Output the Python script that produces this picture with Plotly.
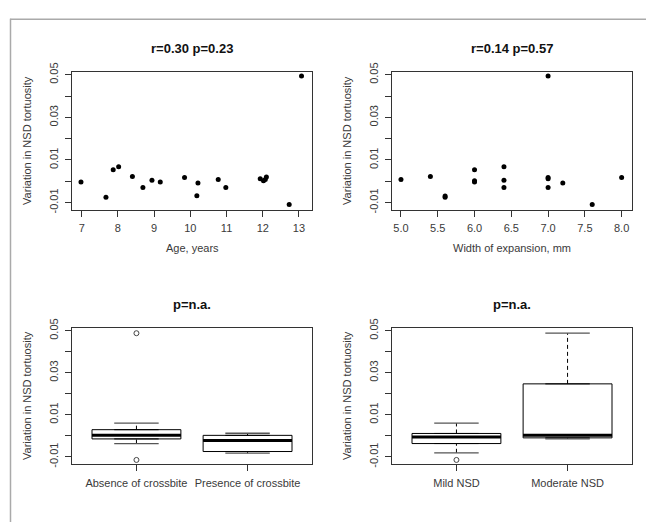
import plotly.graph_objects as go

# ---- data ----
age = [6.98, 7.67, 7.87, 8.02, 8.40, 8.69, 8.94, 9.17, 9.84, 10.18, 10.21, 10.77, 10.98, 11.93, 12.02, 12.07, 12.10, 12.73, 13.07]
var_age = [-0.0003, -0.0075, 0.0054, 0.0068, 0.0023, -0.0029, 0.0005, -0.0003, 0.0018, -0.0068, -0.0008, 0.0008, -0.0029, 0.0012, 0.0003, 0.0008, 0.0020, -0.0109, 0.0494]

width_exp = [5.0, 5.4, 5.6, 5.6, 6.0, 6.0, 6.0, 6.4, 6.4, 6.4, 7.0, 7.0, 7.0, 7.0, 7.2, 7.6, 8.0]
var_width = [0.0008, 0.0023, -0.0069, -0.0075, 0.0054, 0.0003, -0.0003, 0.0068, 0.0005, -0.0029, 0.0494, 0.0018, 0.0012, -0.0029, -0.0008, -0.0109, 0.0018]

cross_cats = ["Absence of crossbite", "Presence of crossbite"]
cross_q1 = [-0.0015, -0.0075]
cross_med = [0.0002, -0.0022]
cross_q3 = [0.0029, 0.0002]
cross_lo = [-0.0037, -0.0083]
cross_hi = [0.0060, 0.0012]
cross_out_x = [1, 1]
cross_out_y = [0.0488, -0.0115]

nsd_cats = ["Mild NSD", "Moderate NSD"]
nsd_q1 = [-0.0037, -0.0010]
nsd_med = [-0.0006, 0.0003]
nsd_q3 = [0.0011, 0.0247]
nsd_lo = [-0.0081, -0.0015]
nsd_hi = [0.0060, 0.0488]
nsd_out_x = [1]
nsd_out_y = [-0.0115]

titles = ["r=0.30 p=0.23", "r=0.14 p=0.57", "p=n.a.", "p=n.a."]
xtitles = ["Age, years", "Width of expansion, mm", "", ""]
ytitle = "Variation in NSD tortuosity"
y_tickvals = [-0.01, 0.0, 0.01, 0.02, 0.03, 0.04, 0.05]
y_ticktext = ["-0.01", "", "0.01", "", "0.03", "", "0.05"]

W, H = 646, 525
FONT = "Liberation Sans, Arial, sans-serif"
TXT = "#3a3a3a"

fig = go.Figure()

def px_x(p):
    return p / W

def px_y(p):
    return 1 - p / H

# panel pixel boxes: (left, right, top, bottom)
panels = [(72, 312, 64, 206), (392, 632, 64, 206), (72, 312, 326, 466), (392, 632, 326, 466)]
xranges = [[6.732, 13.36], [4.878, 8.141], [0.42, 2.58], [0.42, 2.58]]
yrange = [-0.0136, 0.0515]

# scatter panels
fig.add_trace(go.Scatter(x=age, y=var_age, mode="markers",
                         marker=dict(color="black", size=5, symbol="circle"),
                         xaxis="x", yaxis="y", showlegend=False))
fig.add_trace(go.Scatter(x=width_exp, y=var_width, mode="markers",
                         marker=dict(color="black", size=5, symbol="circle"),
                         xaxis="x2", yaxis="y2", showlegend=False))

def add_boxes(q1, med, q3, lo, hi, ox, oy, xa, ya):
    pos = [1, 2]
    for i in range(2):
        fig.add_trace(go.Box(x=[pos[i]], q1=[q1[i]], median=[med[i]], q3=[q3[i]],
                             lowerfence=[q1[i]], upperfence=[q3[i]],
                             width=0.8, fillcolor="white",
                             line=dict(color="black", width=1),
                             whiskerwidth=0.5, boxpoints=False,
                             xaxis=xa, yaxis=ya, showlegend=False, hoverinfo="skip"))
        # dashed whiskers
        fig.add_trace(go.Scatter(x=[pos[i], pos[i]], y=[q3[i], hi[i]], mode="lines",
                                 line=dict(color="black", width=1, dash="4px,3px"),
                                 xaxis=xa, yaxis=ya, showlegend=False, hoverinfo="skip"))
        fig.add_trace(go.Scatter(x=[pos[i], pos[i]], y=[lo[i], q1[i]], mode="lines",
                                 line=dict(color="black", width=1, dash="4px,3px"),
                                 xaxis=xa, yaxis=ya, showlegend=False, hoverinfo="skip"))
        # caps
        for v in (lo[i], hi[i]):
            fig.add_trace(go.Scatter(x=[pos[i] - 0.2, pos[i] + 0.2], y=[v, v], mode="lines",
                                     line=dict(color="#555555", width=1.3),
                                     xaxis=xa, yaxis=ya, showlegend=False, hoverinfo="skip"))
        # thick median
        fig.add_trace(go.Scatter(x=[pos[i] - 0.4, pos[i] + 0.4], y=[med[i], med[i]], mode="lines",
                                 line=dict(color="black", width=3),
                                 xaxis=xa, yaxis=ya, showlegend=False, hoverinfo="skip"))
    fig.add_trace(go.Scatter(x=ox, y=oy, mode="markers",
                             marker=dict(color="white", size=5, symbol="circle",
                                         line=dict(color="#444444", width=1)),
                             xaxis=xa, yaxis=ya, showlegend=False, hoverinfo="skip"))

add_boxes(cross_q1, cross_med, cross_q3, cross_lo, cross_hi, cross_out_x, cross_out_y, "x3", "y3")
add_boxes(nsd_q1, nsd_med, nsd_q3, nsd_lo, nsd_hi, nsd_out_x, nsd_out_y, "x4", "y4")

layout = dict(
    width=W, height=H, margin=dict(l=0, r=0, t=0, b=0),
    paper_bgcolor="white", plot_bgcolor="white",
    font=dict(family=FONT, size=11, color=TXT),
    showlegend=False,
)

annotations = []
for i, (l, r, t, b) in enumerate(panels):
    sx = "" if i == 0 else str(i + 1)
    xa = dict(domain=[px_x(l), px_x(r)], range=xranges[i], anchor="y" + sx,
              showgrid=False, zeroline=False, showline=True, mirror=True,
              linecolor="#333333", linewidth=1, ticks="outside", ticklen=6,
              tickcolor="#333333", tickfont=dict(size=11, color=TXT),
              ticklabelstandoff=2)
    if i == 0:
        xa.update(tickvals=[7, 8, 9, 10, 11, 12, 13])
    elif i == 1:
        xa.update(tickvals=[5.0, 5.5, 6.0, 6.5, 7.0, 7.5, 8.0],
                  ticktext=["5.0", "5.5", "6.0", "6.5", "7.0", "7.5", "8.0"])
    elif i == 2:
        xa.update(tickvals=[1, 2], ticktext=cross_cats)
    else:
        xa.update(tickvals=[1, 2], ticktext=nsd_cats)
    ya = dict(domain=[px_y(b), px_y(t)], range=yrange, anchor="x" + sx,
              showgrid=False, zeroline=False, showline=True, mirror=True,
              linecolor="#333333", linewidth=1, ticks="outside", ticklen=6,
              tickcolor="#333333", tickvals=y_tickvals, ticktext=y_ticktext,
              tickangle=-90, tickfont=dict(size=11, color=TXT),
              ticklabelstandoff=3)
    layout["xaxis" + sx] = xa
    layout["yaxis" + sx] = ya
    cx = (l + r) / 2
    annotations.append(dict(text="<b>" + titles[i] + "</b>", x=px_x(cx), y=px_y(t - 24),
                            xref="paper", yref="paper", showarrow=False,
                            font=dict(size=13, color="#111111"), xanchor="center", yanchor="middle"))
    if xtitles[i]:
        annotations.append(dict(text=xtitles[i], x=px_x(cx), y=px_y(b + 39),
                                xref="paper", yref="paper", showarrow=False,
                                font=dict(size=11, color=TXT), xanchor="center", yanchor="middle"))
    annotations.append(dict(text=ytitle, x=px_x(l - 45), y=px_y((t + b) / 2),
                            xref="paper", yref="paper", showarrow=False, textangle=-90,
                            font=dict(size=11, color=TXT), xanchor="center", yanchor="middle"))

layout["annotations"] = annotations
layout["shapes"] = [
    dict(type="line", xref="paper", yref="paper", x0=px_x(10), x1=1.0, y0=px_y(10.5), y1=px_y(10.5),
         line=dict(color="#aaaaaa", width=1.5)),
    dict(type="line", xref="paper", yref="paper", x0=px_x(10.5), x1=px_x(10.5), y0=0, y1=px_y(10),
         line=dict(color="#aaaaaa", width=1.5)),
]

fig.update_layout(**layout)
fig.write_html(
    "out.html",
    config={"displayModeBar": False},
    post_script=(
        "document.body.style.margin='0px';document.body.style.padding='0px';"
        "var gd=document.getElementById('{plot_id}');"
        "gd.style.position='absolute';gd.style.top='0px';gd.style.left='0px';"
    ),
)
